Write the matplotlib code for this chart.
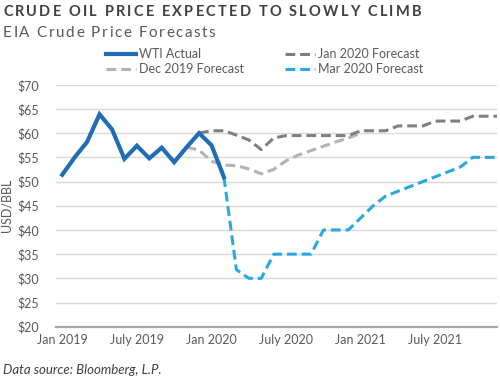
import numpy as np
import pandas as pd
import matplotlib
matplotlib.use("Agg")
import matplotlib.pyplot as plt

plt.rcParams['font.family'] = ['Lato', 'DejaVu Sans']

# monthly categories Jan 2019 .. Dec 2021
months = pd.date_range("2019-01-01", "2021-12-01", freq="MS")
tick_months = ["2019-01", "2019-07", "2020-01", "2020-07", "2021-01", "2021-07"]
tick_labels = ["Jan 2019", "July 2019", "Jan 2020", "July 2020", "Jan 2021", "July 2021"]

# WTI actual, Jan 2019 .. Feb 2020
wti_actual = [51.4, 55.0, 58.2, 63.9, 60.8, 54.7, 57.4, 54.8, 57.0, 54.0, 57.1, 60.0, 57.5, 50.9]
# Dec 2019 forecast, Nov 2019 .. Jan 2021
dec2019_fc = [57.1, 56.5, 54.2, 53.4, 53.3, 52.6, 51.6, 52.5, 54.3, 55.5, 56.4, 57.3, 58.2, 59.0, 60.0]
# Jan 2020 forecast, Dec 2019 .. Dec 2021
jan2020_fc = [60.0, 60.5, 60.5, 59.6, 58.6, 56.6, 59.0, 59.5, 59.5, 59.5, 59.5, 59.5, 59.5,
              60.5, 60.5, 60.5, 61.5, 61.5, 61.5, 62.5, 62.5, 62.5, 63.5, 63.5, 63.5]
# Mar 2020 forecast, Feb 2020 .. Dec 2021
mar2020_fc = [50.9, 31.8, 30.0, 30.0, 35.0, 35.0, 35.0, 35.0, 40.0, 40.0, 40.0,
              42.5, 45.0, 47.0, 48.0, 49.0, 50.0, 51.0, 52.0, 53.0, 55.0, 55.0, 55.0]


def place(values, start):
    # put a series on the 36-month grid starting at a given month
    s = pd.Series(np.nan, index=months)
    i0 = months.get_loc(pd.Timestamp(start))
    s.iloc[i0:i0 + len(values)] = values
    return s.values


def spaced_text(fig, x_px, y_frac, s, track_px, **kw):
    # draw text one char at a time so we get letter spacing (tracking)
    r = fig.canvas.get_renderer()
    W = fig.bbox.width
    t2 = fig.text(0, 0, "a a", **kw)
    t3 = fig.text(0, 0, "aa", **kw)
    space_w = t2.get_window_extent(renderer=r).width - t3.get_window_extent(renderer=r).width
    t2.remove()
    t3.remove()
    for ch in s:
        if ch == " ":
            x_px += space_w + track_px
            continue
        t = fig.text(x_px / W, y_frac, ch, va="baseline", **kw)
        x_px += t.get_window_extent(renderer=r).width + track_px


x = np.arange(len(months))
fig = plt.figure(figsize=(5, 3.81), dpi=100)
ax = fig.add_axes([0.112, 0.1425, 0.882, 0.635])

dash = (3.2, 1.6)
l_dec, = ax.plot(x, place(dec2019_fc, "2019-11-01"), color="#b3b3b3", lw=2.2, dashes=dash,
                 label="Dec 2019 Forecast")
l_jan, = ax.plot(x, place(jan2020_fc, "2019-12-01"), color="#7f7f7f", lw=2.2, dashes=dash,
                 label="Jan 2020 Forecast")
l_mar, = ax.plot(x, place(mar2020_fc, "2020-02-01"), color="#29a9e1", lw=2.2, dashes=dash,
                 label="Mar 2020 Forecast")
l_wti, = ax.plot(x, place(wti_actual, "2019-01-01"), color="#1f6db5", lw=3,
                 solid_joinstyle="miter", label="WTI Actual")

ax.set_xlim(-0.5, 34.95)
ax.set_ylim(20, 70)
ax.set_yticks(np.arange(20, 71, 5))
ax.set_yticklabels([f"${v}" for v in range(20, 71, 5)])
ax.set_xticks([months.get_loc(pd.Timestamp(m)) for m in tick_months])
ax.set_xticklabels(tick_labels)
ax.tick_params(length=0, labelsize=9, labelcolor="#595959")
ax.tick_params(axis="y", pad=12)
ax.tick_params(axis="x", pad=5)
ax.grid(axis="y", color="#d9d9d9", lw=1)
ax.set_axisbelow(True)
for s in ["top", "right", "left"]:
    ax.spines[s].set_visible(False)
ax.spines["bottom"].set_color("#a6a6a6")
ax.spines["bottom"].set_linewidth(1.6)
ax.set_ylabel("USD/BBL", fontsize=9, color="#595959", labelpad=4)

fig.legend(handles=[l_wti, l_dec, l_jan, l_mar], ncol=2, loc="center left",
           bbox_to_anchor=(0.19, 0.838), frameon=False, fontsize=9,
           labelcolor="#595959", handlelength=2.4, handletextpad=0.2,
           columnspacing=3.3, labelspacing=0.2)

spaced_text(fig, 3, 0.958, "CRUDE OIL PRICE EXPECTED TO SLOWLY CLIMB", 2.2,
            fontsize=10.5, fontweight="bold", color="#404040")
spaced_text(fig, 3, 0.903, "EIA Crude Price Forecasts", 1.6,
            fontsize=11, color="#595959")
fig.text(0.006, 0.028, "Data source: Bloomberg, L.P.", fontsize=9.5, style="italic",
         color="#404040", va="center")

fig.savefig("out.png", dpi=100)
